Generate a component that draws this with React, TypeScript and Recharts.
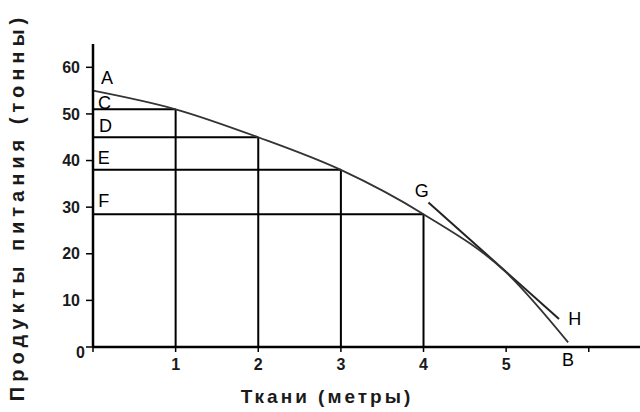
import { ComposedChart, Line, XAxis, YAxis, ReferenceLine, ReferenceDot } from 'recharts'

// production possibility frontier
const fabric = [0, 1, 2, 3, 4, 5, 5.75]
const food = [55, 51, 45, 38, 28.5, 16, 1]
const xTicks = [0, 1, 2, 3, 4, 5, 6]
const yTicks = [0, 10, 20, 30, 40, 50, 60]

// points C..F whose guide lines drop to both axes
const guideIdx = [1, 2, 3, 4]

// tangent G-H
const tangentX = [4.06, 5.64]
const tangentY = [31, 6]

const letters = ['A', 'C', 'D', 'E', 'F', 'G', 'H', 'B']
const letterX = [0.17, 0.14, 0.15, 0.13, 0.13, 3.98, 5.83, 5.75]
const letterY = [57.8, 52.5, 47.5, 40.7, 31.5, 33.5, 6, -2.8]

const curve = fabric.map((x, i) => ({ x, y: food[i] }))

const font = '"Liberation Sans", Arial, sans-serif'
const tickStyle = { fontSize: 16, fill: '#1a1a1a', fontFamily: font, fontWeight: 'bold' as const }

// the 0 label sits tucked into the corner in the original
function YTick(props: any) {
  const { x, y, payload } = props
  const zero = payload.value === 0
  return (
    <text
      x={zero ? x + 5 : x}
      y={zero ? y + 5 : y}
      dy="0.355em"
      textAnchor="end"
      {...tickStyle}
    >
      {payload.value}
    </text>
  )
}

export default function App() {
  return (
    <div style={{ position: 'absolute', left: 0, top: 0, width: 640, height: 412, background: '#fff' }}>
      <ComposedChart width={640} height={412} margin={{ top: 44, right: 0, bottom: 35, left: 0 }}>
        <XAxis
          type="number"
          dataKey="x"
          domain={[0, 6.62]}
          ticks={xTicks}
          tickFormatter={(v) => (v === 0 || v === 6 ? '' : String(v))}
          tick={tickStyle}
          axisLine={{ stroke: '#000', strokeWidth: 2.5 }}
          tickLine={{ stroke: '#000', strokeWidth: 1.5 }}
          tickSize={5}
          tickMargin={7}
          height={30}
          allowDataOverflow
        />
        <YAxis
          type="number"
          domain={[0, 65]}
          ticks={yTicks}
          tick={<YTick />}
          axisLine={{ stroke: '#000', strokeWidth: 2.5 }}
          tickLine={{ stroke: '#000', strokeWidth: 1.5 }}
          tickSize={7}
          tickMargin={6}
          width={93}
          allowDataOverflow
        />
        {guideIdx.map((i) => (
          <ReferenceLine
            key={'h' + i}
            segment={[{ x: 0, y: food[i] }, { x: fabric[i], y: food[i] }]}
            stroke="#000"
            strokeWidth={2}
          />
        ))}
        {guideIdx.map((i) => (
          <ReferenceLine
            key={'v' + i}
            segment={[{ x: fabric[i], y: 0 }, { x: fabric[i], y: food[i] }]}
            stroke="#000"
            strokeWidth={2}
          />
        ))}
        <ReferenceLine
          segment={[{ x: tangentX[0], y: tangentY[0] }, { x: tangentX[1], y: tangentY[1] }]}
          stroke="#222"
          strokeWidth={2}
        />
        <Line
          data={curve}
          dataKey="y"
          type="monotone"
          stroke="#333"
          strokeWidth={1.8}
          dot={false}
          isAnimationActive={false}
        />
        {letters.map((l, i) => (
          <ReferenceDot
            key={l}
            x={letterX[i]}
            y={letterY[i]}
            r={0}
            ifOverflow="visible"
            label={{ value: l, position: 'center', fontSize: 18, fill: '#000', fontFamily: font }}
          />
        ))}
      </ComposedChart>
      <div
        style={{
          position: 'absolute', left: 327, top: 397, transform: 'translate(-50%, -50%)',
          fontFamily: font, fontSize: 19, fontWeight: 'bold', letterSpacing: 3, color: '#1a1a1a', whiteSpace: 'nowrap',
        }}
      >
        Ткани (метры)
      </div>
      <div
        style={{
          position: 'absolute', left: 17, top: 207, transform: 'translate(-50%, -50%) rotate(-90deg)',
          fontFamily: font, fontSize: 20, fontWeight: 'bold', letterSpacing: 5, color: '#1a1a1a', whiteSpace: 'nowrap',
        }}
      >
        Продукты питания (тонны)
      </div>
    </div>
  )
}
